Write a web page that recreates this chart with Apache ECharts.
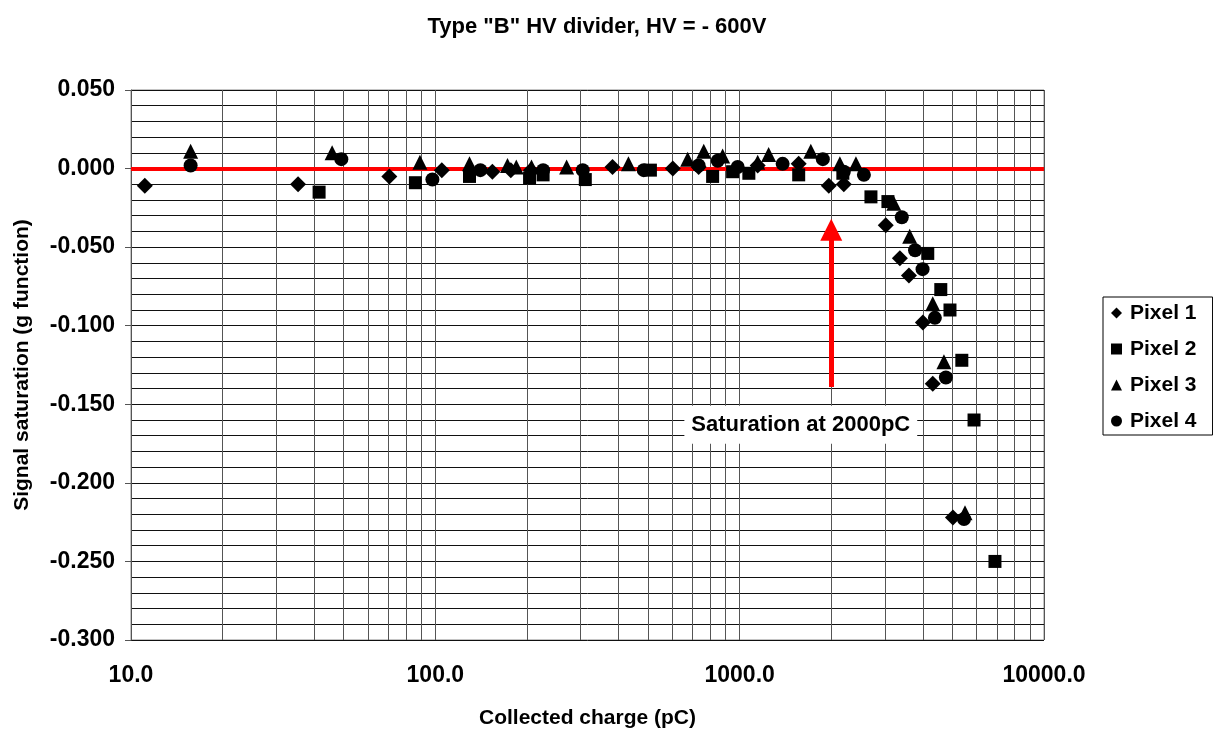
<!DOCTYPE html>
<html><head><meta charset="utf-8">
<script src="https://cdn.jsdelivr.net/npm/echarts@6/dist/echarts.min.js"></script>
<style>html,body{margin:0;padding:0;background:#fff}#c{width:1213px;height:731px}</style>
</head><body><div id="c"></div>
<script>
const pixel1 = [[11.1,-0.011],[35.4,-0.010],[70.6,-0.005],[105,-0.001],[154,-0.002],[177,-0.001],[206,-0.001],[382,0.001],[603,0.000],[733,0.001],[1146,0.002],[1563,0.003],[1963,-0.011],[2199,-0.010],[3020,-0.036],[3360,-0.057],[3600,-0.068],[4000,-0.098],[4310,-0.137],[5020,-0.222]];
const pixel2 = [[41.5,-0.015],[86,-0.009],[129.5,-0.005],[204,-0.006],[226,-0.004],[311,-0.007],[509,-0.001],[815,-0.005],[948,-0.002],[1072,-0.003],[1563,-0.004],[2183,-0.003],[2700,-0.018],[3070,-0.021],[4150,-0.054],[4580,-0.077],[4910,-0.090],[5370,-0.122],[5890,-0.160],[6900,-0.250]];
const pixel3 = [[15.7,0.011],[45.8,0.010],[89,0.004],[129.5,0.003],[172.6,0.002],[184.5,0.001],[207,0.001],[270,0.001],[431,0.003],[675,0.006],[762,0.011],[879,0.008],[1146,0.004],[1245,0.009],[1713,0.011],[2134,0.003],[2410,0.003],[3210,-0.022],[3620,-0.043],[4310,-0.086],[4690,-0.123],[5500,-0.219]];
const pixel4 = [[15.7,0.002],[49.1,0.006],[97.8,-0.007],[140.6,-0.001],[226,-0.001],[305,-0.001],[484,-0.001],[733,0.002],[847,0.005],[985,0.001],[1384,0.003],[1876,0.006],[2199,-0.002],[2560,-0.004],[3410,-0.031],[3770,-0.052],[3990,-0.064],[4380,-0.095],[4760,-0.133],[5460,-0.223]];
const seriesNames = ['Pixel 1','Pixel 2','Pixel 3','Pixel 4'];
const minorX = [20,30,40,50,60,70,80,90,200,300,400,500,600,700,800,900,2000,3000,4000,5000,6000,7000,8000,9000];
const arrowFrom = [2000,-0.139], arrowTo = [2000,-0.039];
const annotText = 'Saturation at 2000pC', annotPos = [1588,-0.163];
const titleText = 'Type "B" HV divider, HV = - 600V';

const F = 'Liberation Sans, Arial, sans-serif';
const chart = echarts.init(document.getElementById('c'));
const mk = (name, data, symbol, size) => ({
  name, type:'scatter', data, symbol, symbolSize:size,
  itemStyle:{color:'#000', opacity:1}, z:5
});
chart.setOption({
  animation:false,
  title:{text:titleText, left:592, top:11, textAlign:'center',
    textStyle:{fontFamily:F, fontWeight:'bold', fontSize:22, color:'#000'}},
  grid:{left:131, right:169, top:90, bottom:91, show:true, borderColor:'#888', borderWidth:1,
    containLabel:false, outerBoundsMode:'none'},
  legend:{orient:'vertical', left:1103, top:297, data:seriesNames,
    borderColor:'#000', borderWidth:1, padding:[5,16,3,8], itemGap:14,
    itemWidth:11, itemHeight:11, itemStyle:{opacity:1},
    textStyle:{fontFamily:F, fontWeight:'bold', fontSize:21, lineHeight:22, color:'#000', padding:[0,0,0,3]}},
  xAxis:{type:'log', logBase:10, min:10, max:10000,
    name:'Collected charge (pC)', nameLocation:'middle', nameGap:68,
    nameTextStyle:{fontFamily:F, fontWeight:'bold', fontSize:21, color:'#000'},
    axisLine:{show:true, lineStyle:{color:'#555', width:1}},
    axisTick:{show:true, length:5, lineStyle:{color:'#555'}},
    axisLabel:{margin:24, fontFamily:F, fontWeight:'bold', fontSize:23, color:'#000',
      formatter:v=>Number(v).toFixed(1)},
    splitLine:{show:true, lineStyle:{color:'#555', width:1}}},
  yAxis:{type:'value', min:-0.3, max:0.05, interval:0.05,
    name:'Signal saturation (g function)', nameLocation:'middle', nameGap:98,
    nameTextStyle:{fontFamily:F, fontWeight:'bold', fontSize:21, color:'#000'},
    axisLine:{show:true, lineStyle:{color:'#555', width:1}},
    axisTick:{show:true, length:6, lineStyle:{color:'#555'}},
    axisLabel:{margin:16, fontFamily:F, fontWeight:'bold', fontSize:23, color:'#000',
      formatter:v=>Number(v).toFixed(3)},
    minorTick:{show:false, splitNumber:5},
    minorSplitLine:{show:true, lineStyle:{color:'#111', width:1}},
    splitLine:{show:true, lineStyle:{color:'#111', width:1}}},
  series:[
    {name:'grid', type:'line', data:[], silent:true,
      markLine:{silent:true, symbol:['none','none'], label:{show:false},
        lineStyle:{color:'#555', width:1, type:'solid'},
        data:minorX.map(v=>({xAxis:v}))}},
    {name:'ref', type:'line', data:[], silent:true, z:3,
      markLine:{silent:true, symbol:['none','none'], label:{show:false},
        lineStyle:{color:'#ff0000', width:4, type:'solid'},
        data:[{yAxis:0}]}},
    {name:'arrow', type:'line', data:[], silent:true, z:6,
      markLine:{silent:true, symbol:['none','triangle'], symbolSize:[22,22], label:{show:false},
        lineStyle:{color:'#ff0000', width:5, type:'solid'},
        data:[[{coord:arrowFrom},{coord:arrowTo}]]},
      markPoint:{silent:true, symbol:'rect', symbolSize:1, itemStyle:{color:'rgba(0,0,0,0)'},
        label:{show:true, position:'inside', formatter:annotText, backgroundColor:'#fff',
          padding:[8,7,8,7], fontFamily:F, fontWeight:'bold', fontSize:22, color:'#000'},
        data:[{coord:annotPos}]}},
    mk('Pixel 1', pixel1, 'diamond', 16),
    mk('Pixel 2', pixel2, 'rect', 13),
    mk('Pixel 3', pixel3, 'triangle', 15),
    mk('Pixel 4', pixel4, 'circle', 14)
  ]
});
</script></body></html>
